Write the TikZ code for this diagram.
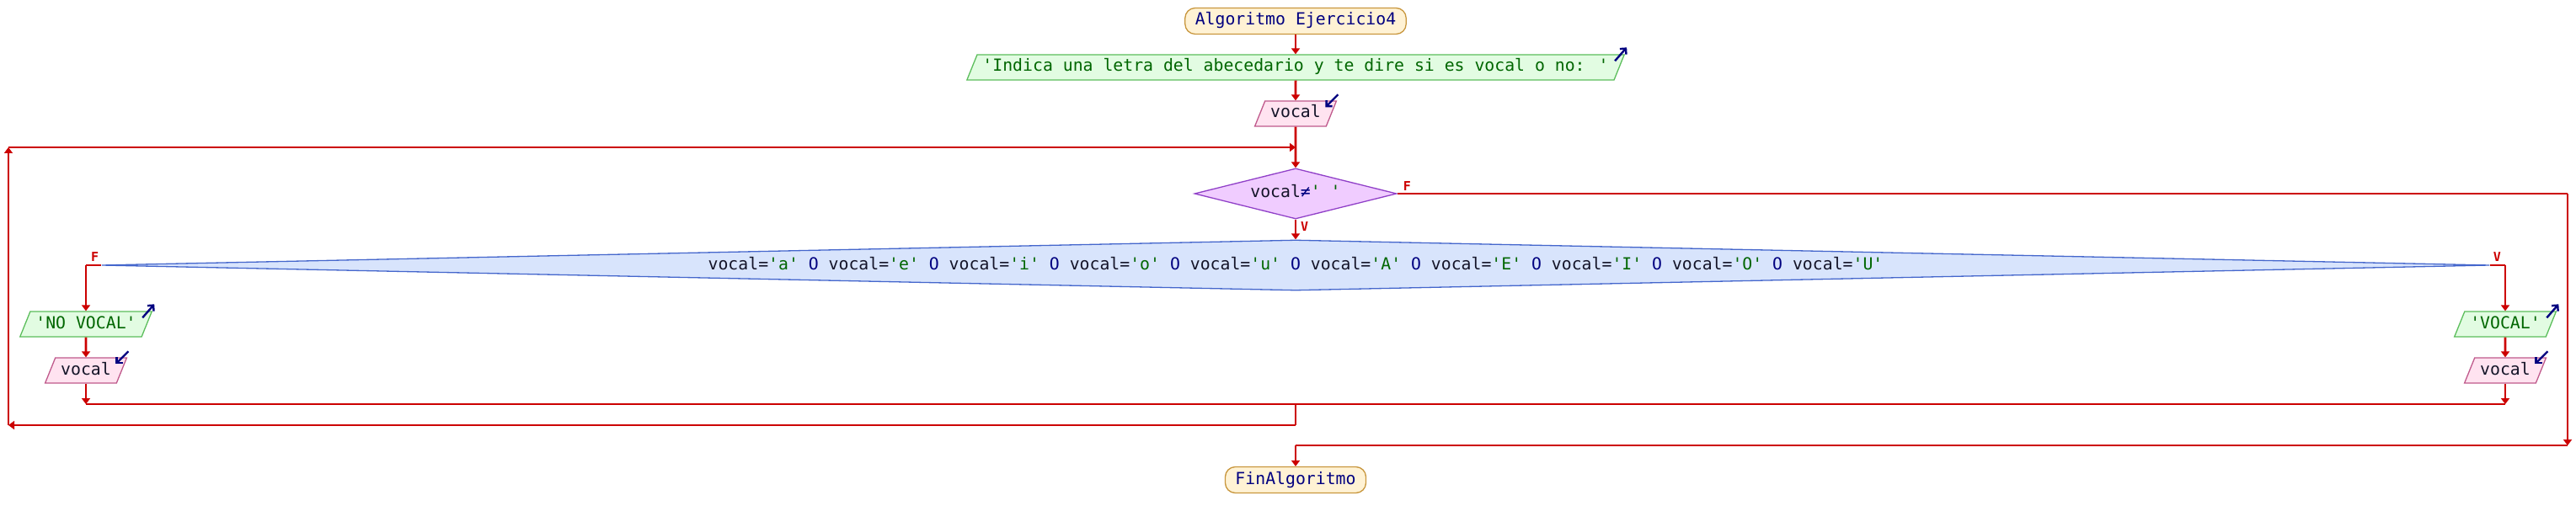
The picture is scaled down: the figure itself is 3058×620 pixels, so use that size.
\documentclass[tikz,border=0pt]{standalone}
\usepackage{fontspec}
\usetikzlibrary{shapes.geometric,arrows.meta}
\newfontfamily\flowmono{DejaVu Sans Mono}
\definecolor{flowred}{HTML}{CC0000}
\definecolor{kwblue}{HTML}{000080}
\definecolor{strgreen}{HTML}{006600}
\definecolor{inktext}{HTML}{141428}
\definecolor{termfill}{HTML}{FFF2D4}
\definecolor{termdraw}{HTML}{C8963C}
\definecolor{outfill}{HTML}{E2FCE2}
\definecolor{outdraw}{HTML}{5CBE5C}
\definecolor{infill}{HTML}{FFE3F0}
\definecolor{indraw}{HTML}{C05A8C}
\definecolor{condfill}{HTML}{F0CCFF}
\definecolor{conddraw}{HTML}{9040C8}
\definecolor{bigfill}{HTML}{D8E4FC}
\definecolor{bigdraw}{HTML}{4466CC}
\newcommand{\vq}[1]{vocal=\textcolor{strgreen}{'#1'}}
\newcommand{\vor}{ \textcolor{kwblue}{O} }
\tikzset{
  monotext/.style={font={\flowmono\fontsize{19.8}{22}\selectfont}, text height=14, text depth=4},
  term/.style={monotext, rectangle, rounded corners=12, inner xsep=12, inner ysep=6.5,
    fill=termfill, draw=termdraw, line width=1.3, text=kwblue},
  iobox/.style={monotext, trapezium, trapezium left angle=68, trapezium right angle=112,
    inner xsep=6.5, inner ysep=6, line width=1.3},
  outbox/.style={iobox, fill=outfill, draw=outdraw, text=strgreen},
  inbox/.style={iobox, fill=infill, draw=indraw, text=inktext},
  condbox/.style={monotext, diamond, inner sep=0, line width=1.3, text=inktext},
  wire/.style={draw=flowred, line width=2.8},
  flow/.style={wire, -{Triangle[length=7,width=10]}},
  outicon/.style={draw=kwblue, line width=2.4, -{Straight Barb[length=5,width=10]}},
  brlabel/.style={text=flowred, inner sep=0, font={\flowmono\bfseries\fontsize{15}{16}\selectfont}}
}
\begin{document}
\begin{tikzpicture}[x=1pt,y=-1pt]
\useasboundingbox[fill=white] (0,0) rectangle (3058,620);

\node[term] (start) at (1538,25) {Algoritmo Ejercicio4};
\node[outbox] (out1) at (1538,80) {'Indica una letra del abecedario y te dire si es vocal o no: '};
\node[inbox] (in1) at (1538,135) {vocal};
\node[condbox, fill=condfill, draw=conddraw, minimum width=240, minimum height=60, aspect=4] (cond) at (1538,230)
  {vocal\textcolor{kwblue}{≠}\textcolor{strgreen}{' '}};
\node[condbox, fill=bigfill, draw=bigdraw, minimum width=2835, minimum height=60, aspect=40] (vow) at (1538,315)
  {\vq{a}\vor\vq{e}\vor\vq{i}\vor\vq{o}\vor\vq{u}\vor\vq{A}\vor\vq{E}\vor\vq{I}\vor\vq{O}\vor\vq{U}};
\node[outbox] (no1) at (102,385) {'NO VOCAL'};
\node[inbox] (no2) at (102,440) {vocal};
\node[outbox] (yes1) at (2974,385) {'VOCAL'};
\node[inbox] (yes2) at (2974,440) {vocal};
\node[term] (fin) at (1538,570) {FinAlgoritmo};

\coordinate (jtop) at (1538,175);
\coordinate (ltop) at (10,175);
\coordinate (lbot) at (10,505);
\coordinate (mdown) at (1538,505);
\coordinate (mjoin) at (1538,480);
\coordinate (bl) at (102,315);
\coordinate (br) at (2974,315);
\coordinate (lm) at (102,480);
\coordinate (rm) at (2974,480);
\coordinate (rtop) at (3048,230);
\coordinate (rbot) at (3048,529);
\coordinate (mbot) at (1538,529);

\draw[flow] (start) -- (out1);
\draw[flow] (out1) -- (in1);
\draw[flow] (in1) -- (cond);
\draw[flow] (cond) -- (vow);
\draw[wire] (cond.east) -- (rtop);
\draw[flow] (rtop) -- (rbot);
\draw[wire] (rbot) -- (mbot);
\draw[flow] (mbot) -- (fin);

\draw[wire] (vow.west) -- (bl);
\draw[flow] (bl) -- (no1);
\draw[flow] (no1) -- (no2);
\draw[flow] (no2) -- (lm);
\draw[wire] (vow.east) -- (br);
\draw[flow] (br) -- (yes1);
\draw[flow] (yes1) -- (yes2);
\draw[flow] (yes2) -- (rm);
\draw[wire] (lm) -- (rm);

\draw[wire] (mjoin) -- (mdown);
\draw[flow] (mdown) -- (lbot);
\draw[flow] (lbot) -- (ltop);
\draw[flow] (ltop) -- (jtop);

\node[brlabel, anchor=south west] (fcond) at ([shift={(7,-3)}]cond.east) {F};
\node[brlabel, anchor=north west] (vcond) at ([shift={(6,3)}]cond.south) {V};
\node[brlabel, anchor=south west] (fvow) at ([shift={(6,-4)}]bl) {F};
\node[brlabel, anchor=south east] (vvow) at ([shift={(-5,-4)}]br) {V};

\draw[outicon] ([shift={(-12,8)}]out1.top right corner) -- ++(14,-16);
\draw[outicon] ([shift={(-12,8)}]no1.top right corner) -- ++(14,-16);
\draw[outicon] ([shift={(-12,8)}]yes1.top right corner) -- ++(14,-16);
\draw[outicon] ([shift={(1,-7)}]in1.top right corner) -- ++(-15,15);
\draw[outicon] ([shift={(1,-7)}]no2.top right corner) -- ++(-15,15);
\draw[outicon] ([shift={(1,-7)}]yes2.top right corner) -- ++(-15,15);
\end{tikzpicture}
\end{document}
